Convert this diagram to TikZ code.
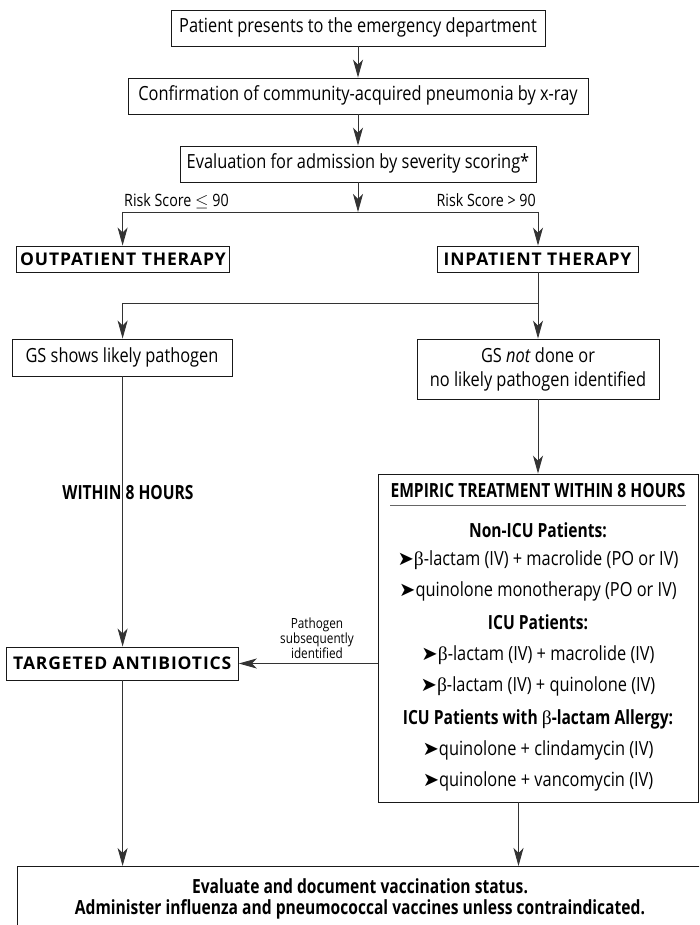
\documentclass[tikz,border=0pt]{standalone}
\usepackage{fontspec}
\setmainfont{Open Sans}[FakeStretch=0.84]
\newfontfamily\bcond{Open Sans}[FakeStretch=0.8]
\newfontfamily\widefont{Open Sans}[LetterSpace=5.0]
\newfontfamily\betafont{Liberation Serif}
\newfontfamily\symfont{DejaVu Sans}
\usetikzlibrary{arrows.meta}
\newcommand\bt{{\betafont\mdseries β}}
\newcommand\bul{{\symfont\mdseries ➤}}
\newcommand\fmain{\fontsize{19.5pt}{24pt}\selectfont}
\newcommand\fsmall{\fontsize{17pt}{20pt}\selectfont}
\newcommand\ftiny{\fontsize{14pt}{13.5pt}\selectfont}
\begin{document}
\begin{tikzpicture}[x=1pt,y=-1pt,
  box/.style={draw=black!90, line width=0.9pt, inner sep=0pt, font=\fmain,
    text height=14pt, text depth=4pt},
  multibox/.style={draw=black!90, line width=0.9pt, inner sep=0pt, font=\fmain, align=center},
  bigbox/.style={draw=black!90, line width=0.9pt, inner sep=0pt, font=\widefont\bfseries\fontsize{17.5pt}{20pt}\selectfont,
    text height=12.5pt, text depth=0pt},
  conn/.style={draw=black!80, line width=0.9pt},
  arr/.style={conn, -{Stealth[length=18pt, width=10pt, inset=5pt]}},
  txt/.style={inner sep=0pt, font=\fmain},
  btxt/.style={inner sep=0pt, font=\bcond\bfseries\fmain},
]
\useasboundingbox (0,0) rectangle (699,925);
\clip (0,0) rectangle (699,925);

% top boxes
\node[box, minimum width=374pt, minimum height=36pt] (b1) at (358,28) {Patient presents to the emergency department};
\node[box, minimum width=460pt, minimum height=36pt] (b2) at (358,96) {Confirmation of community-acquired pneumonia by x-ray};
\node[box, minimum width=356pt, minimum height=36pt] (b3) at (358,164) {Evaluation for admission by severity scoring*};

\coordinate (split) at (358,212);
\coordinate (sl) at (122.6,212);
\coordinate (sr) at (538,212);

\node[txt, font=\fsmall, anchor=base west] (rl) at (124,207) {Risk Score $\le$ 90};
\node[txt, font=\fsmall, anchor=base east] (rr) at (536,207) {Risk Score > 90};

\node[bigbox, minimum width=213pt, minimum height=26pt] (out) at (123,259) {OUTPATIENT THERAPY};
\node[bigbox, minimum width=201pt, minimum height=26pt] (inp) at (537.5,259) {INPATIENT THERAPY};

\coordinate (s2r) at (538,303);
\coordinate (s2l) at (122.6,303);

\node[box, minimum width=220pt, minimum height=37pt] (gsl) at (122,357.5) {GS shows likely pathogen};
\node[multibox, minimum width=242pt, minimum height=60pt] (gsr) at (538,369) {GS \textit{not} done or\\no likely pathogen identified};

% empiric box
\node[draw=black!90, line width=0.9pt, minimum width=320pt, minimum height=328pt, inner sep=0pt] (emp) at (538,638) {};
\node[btxt, anchor=base] (e0) at (538,497) {EMPIRIC TREATMENT WITHIN 8 HOURS};
\coordinate (ul1) at (390,505);
\coordinate (ul2) at (686,505);
\draw[draw=black!60, line width=1pt] (ul1) -- (ul2);
\node[btxt, anchor=base] (e1) at (538,537) {Non-ICU Patients:};
\node[txt, anchor=base] (e2) at (538,565) {\bul\bt-lactam (IV) + macrolide (PO or IV)};
\node[txt, anchor=base] (e3) at (538,596) {\bul quinolone monotherapy (PO or IV)};
\node[btxt, anchor=base] (e4) at (538,629) {ICU Patients:};
\node[txt, anchor=base] (e5) at (538,660) {\bul\bt-lactam (IV) + macrolide (IV)};
\node[txt, anchor=base] (e6) at (538,691) {\bul\bt-lactam (IV) + quinolone (IV)};
\node[btxt, anchor=base] (e7) at (538,724) {ICU Patients with \bt-lactam Allergy:};
\node[txt, anchor=base] (e8) at (538,755) {\bul quinolone + clindamycin (IV)};
\node[txt, anchor=base] (e9) at (538,786) {\bul quinolone + vancomycin (IV)};

\node[bigbox, minimum width=232pt, minimum height=33pt] (tgt) at (122.3,663.5) {TARGETED ANTIBIOTICS};

\node[btxt, anchor=base] (w8) at (128,499) {WITHIN 8 HOURS};
\node[txt, font=\ftiny, align=center] (pl) at (317,638) {Pathogen\\subsequently\\identified};

% bottom box
\node[draw=black!90, line width=0.9pt, minimum width=687pt, minimum height=84pt, inner sep=0pt, anchor=north west] (vacc) at (16.5,866) {};
\node[btxt, anchor=base] (v1) at (360,893) {Evaluate and document vaccination status.};
\node[btxt, anchor=base] (v2) at (360,914) {Administer influenza and pneumococcal vaccines unless contraindicated.};

% connectors
\draw[arr] (b1) -- (b2);
\draw[arr] (b2) -- (b3);
\draw[arr] (b3) -- (split);
\draw[conn] (sl) -- (sr);
\draw[arr] (sl) -- (sl |- out.north);
\draw[arr] (sr) -- (sr |- inp.north);
\draw[conn] (inp.south -| s2r) -- (s2r) -- (s2l);
\draw[arr] (s2l) -- (s2l |- gsl.north);
\draw[arr] (s2r) -- (s2r |- gsr.north);
\draw[arr] (gsr.south -| s2r) -- (s2r |- emp.north);
\draw[arr] (gsl.south -| s2l) -- (s2l |- tgt.north);
\draw[arr] (emp.west |- tgt.east) -- (tgt.east);
\draw[arr] (tgt.south -| s2l) -- (s2l |- vacc.north);
\coordinate (eb) at (518.5,802);
\draw[arr] (eb) -- (eb |- vacc.north);
\end{tikzpicture}
\end{document}
